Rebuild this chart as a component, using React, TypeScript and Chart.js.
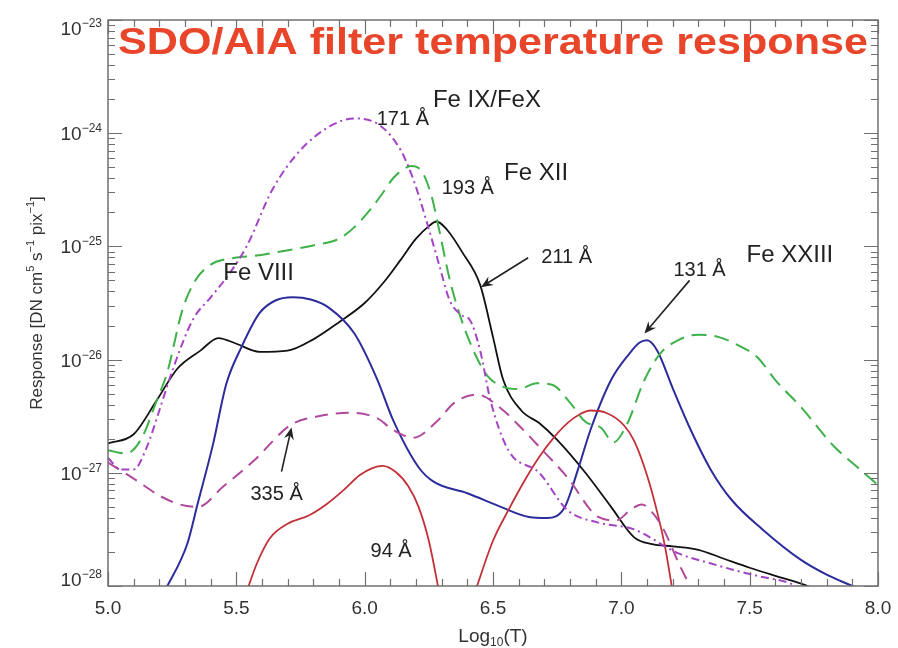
import { useEffect, useRef } from "react";
import { Chart, registerables } from "chart.js";

Chart.register(...registerables);

// ---- data (log10 T, response in DN cm^5 s^-1 pix^-1) ----
const T211 = [5.0, 5.1, 5.19, 5.27, 5.36, 5.43, 5.5, 5.59, 5.7, 5.8, 5.9, 6.0, 6.08, 6.14, 6.2, 6.25, 6.28, 6.32, 6.38, 6.45, 6.5, 6.54, 6.61, 6.68, 6.75, 6.86, 6.96, 7.05, 7.12, 7.2, 7.3, 7.4, 7.5, 7.6, 7.7, 7.78];
const R211 = [1.82e-27, 2.19e-27, 4.37e-27, 8.3e-27, 1.2e-26, 1.55e-26, 1.38e-26, 1.17e-26, 1.2e-26, 1.51e-26, 2.14e-26, 3.16e-26, 5.0e-26, 7.6e-26, 1.17e-25, 1.51e-25, 1.66e-25, 1.41e-25, 8.9e-26, 4.57e-26, 1.58e-26, 6.6e-27, 3.55e-27, 2.75e-27, 1.95e-27, 1.0e-27, 5.0e-28, 2.69e-28, 2.34e-28, 2.24e-28, 2.09e-28, 1.74e-28, 1.45e-28, 1.23e-28, 1.05e-28, 8.9e-29];

const T131 = [5.22, 5.31, 5.35, 5.41, 5.46, 5.52, 5.59, 5.65, 5.72, 5.79, 5.86, 5.96, 6.05, 6.11, 6.21, 6.27, 6.4, 6.53, 6.64, 6.71, 6.78, 6.83, 6.88, 6.96, 7.03, 7.07, 7.1, 7.14, 7.2, 7.27, 7.35, 7.43, 7.55, 7.7, 7.8, 7.9, 7.95];
const R131 = [8.9e-29, 2.4e-28, 5.4e-28, 1.82e-27, 6.0e-27, 1.29e-26, 2.57e-26, 3.31e-26, 3.55e-26, 3.39e-26, 2.88e-26, 1.7e-26, 6.6e-27, 2.95e-27, 1.12e-27, 8.3e-28, 6.6e-28, 5.0e-28, 4.07e-28, 3.98e-28, 5.0e-28, 1.05e-27, 2.4e-27, 6.6e-27, 1.12e-26, 1.41e-26, 1.48e-26, 1.2e-26, 5.6e-27, 2.4e-27, 1.05e-27, 5.75e-28, 3.16e-28, 1.7e-28, 1.26e-28, 1.0e-28, 8.9e-29];

const T94 = [5.54, 5.58, 5.63, 5.7, 5.78, 5.85, 5.92, 5.98, 6.03, 6.07, 6.12, 6.17, 6.21, 6.25, 6.29, 6.36, 6.43, 6.5, 6.56, 6.62, 6.68, 6.74, 6.79, 6.84, 6.88, 6.94, 7.01, 7.05, 7.1, 7.14, 7.17, 7.2];
const R94 = [8.9e-29, 1.58e-28, 2.63e-28, 3.55e-28, 4.17e-28, 5.25e-28, 7.1e-28, 9.5e-28, 1.1e-27, 1.15e-27, 1.02e-27, 7.6e-28, 5.0e-28, 2.51e-28, 8.9e-29, null, 8.9e-29, 2.51e-28, 4.68e-28, 8.3e-28, 1.38e-27, 2.09e-27, 2.75e-27, 3.31e-27, 3.55e-27, 3.39e-27, 2.63e-27, 1.91e-27, 9.5e-28, 4.47e-28, 2.24e-28, 8.9e-29];

const T193 = [5.0, 5.07, 5.13, 5.19, 5.23, 5.29, 5.34, 5.4, 5.49, 5.58, 5.66, 5.8, 5.9, 5.96, 6.02, 6.07, 6.11, 6.15, 6.18, 6.22, 6.26, 6.29, 6.33, 6.37, 6.43, 6.48, 6.54, 6.6, 6.67, 6.73, 6.8, 6.86, 6.92, 6.97, 7.02, 7.09, 7.15, 7.22, 7.3, 7.38, 7.46, 7.53, 7.6, 7.7, 7.83, 7.92, 8.0];
const R193 = [1.58e-27, 1.48e-27, 2.0e-27, 4.37e-27, 7.6e-27, 2.75e-26, 5.0e-26, 6.9e-26, 7.9e-26, 8.3e-26, 8.9e-26, 1.02e-25, 1.17e-25, 1.48e-25, 2.09e-25, 2.95e-25, 3.98e-25, 4.79e-25, 5.13e-25, 4.68e-25, 2.82e-25, 1.41e-25, 5.25e-26, 2.51e-26, 1.12e-26, 7.1e-27, 5.75e-27, 5.5e-27, 6.17e-27, 6.0e-27, 4.17e-27, 2.82e-27, 2.51e-27, 1.86e-27, 2.63e-27, 6.6e-27, 1.12e-26, 1.48e-26, 1.66e-26, 1.58e-26, 1.32e-26, 1.05e-26, 6.6e-27, 3.8e-27, 1.7e-27, 1.12e-27, 7.8e-28];

const T171 = [5.0, 5.05, 5.1, 5.15, 5.2, 5.25, 5.33, 5.4, 5.46, 5.54, 5.64, 5.75, 5.87, 5.96, 6.06, 6.14, 6.19, 6.24, 6.29, 6.33, 6.38, 6.41, 6.45, 6.49, 6.56, 6.68, 6.79, 6.91, 7.05, 7.22, 7.35, 7.44, 7.55, 7.65, 7.72];
const R171 = [1.35e-27, 1.07e-27, 1.07e-27, 1.66e-27, 3.55e-27, 7.9e-27, 2.24e-26, 3.55e-26, 5.25e-26, 1.0e-25, 3.16e-25, 7.1e-25, 1.17e-24, 1.35e-24, 1.17e-24, 7.1e-25, 3.89e-25, 1.7e-25, 6.9e-26, 3.39e-26, 2.45e-26, 2.24e-26, 1.2e-26, 4.37e-27, 1.58e-27, 1.0e-27, 4.68e-28, 3.63e-28, 3.16e-28, 1.95e-28, 1.58e-28, 1.38e-28, 1.2e-28, 1.07e-28, 8.9e-29];

const T335 = [5.0, 5.1, 5.2, 5.28, 5.35, 5.45, 5.57, 5.71, 5.82, 5.95, 6.05, 6.11, 6.19, 6.28, 6.35, 6.44, 6.53, 6.6, 6.68, 6.79, 6.91, 6.98, 7.04, 7.08, 7.12, 7.16, 7.23, 7.28];
const R335 = [1.23e-27, 8.9e-28, 6.3e-28, 5.25e-28, 5.0e-28, 7.6e-28, 1.29e-27, 2.63e-27, 3.16e-27, 3.39e-27, 3.02e-27, 2.4e-27, 2.04e-27, 2.82e-27, 4.17e-27, 4.9e-27, 3.72e-27, 2.63e-27, 1.7e-27, 9.1e-28, 4.07e-28, 3.8e-28, 4.79e-28, 5.25e-28, 4.47e-28, 3.31e-28, 1.48e-28, 8.9e-29];

// ---- axes ----
const X_MIN = 5.0;
const X_MAX = 8.0;
const X_TICK_LABELS = ["5.0", "5.5", "6.0", "6.5", "7.0", "7.5", "8.0"];
const Y_DECADES = [-28, -27, -26, -25, -24, -23];

// ---- annotations (anchored in data space: log10 T, log10 response) ----
const LABELS = [
  { text: "171 Å", t: 6.047, e: -23.93, size: 20 },
  { text: "Fe IX/FeX", t: 6.266, e: -23.77, size: 24 },
  { text: "193 Å", t: 6.3, e: -24.54, size: 20 },
  { text: "Fe XII", t: 6.543, e: -24.41, size: 24 },
  { text: "211 Å", t: 6.688, e: -25.15, size: 20 },
  { text: "131 Å", t: 7.203, e: -25.26, size: 20 },
  { text: "Fe XXIII", t: 7.488, e: -25.14, size: 24 },
  { text: "Fe VIII", t: 5.449, e: -25.3, size: 24 },
  { text: "335 Å", t: 5.555, e: -27.24, size: 20 },
  { text: "94 Å", t: 6.023, e: -27.74, size: 20 },
];
const ARROWS = [
  { t0: 6.637, e0: -25.1, t1: 6.453, e1: -25.36 },
  { t0: 7.266, e0: -25.3, t1: 7.09, e1: -25.77 },
  { t0: 5.676, e0: -26.99, t1: 5.715, e1: -26.6 },
];

const TITLE = "SDO/AIA filter temperature response";
const FONT = 'Arial, "Liberation Sans", Helvetica, sans-serif';

function pts(t: number[], r: (number | null)[]) {
  return t.map((x, i) => ({ x, y: r[i] }));
}

const overlayPlugin = {
  id: "overlay",
  afterDraw(chart: any) {
    const { ctx, chartArea: a } = chart;
    const xs = chart.scales.x;
    const ys = chart.scales.y;
    ctx.save();

    // frame
    ctx.strokeStyle = "#707070";
    ctx.lineWidth = 1.5;
    ctx.strokeRect(a.left, a.top, a.right - a.left, a.bottom - a.top);

    // ticks
    ctx.lineWidth = 1.2;
    ctx.beginPath();
    for (let i = 0; i < Y_DECADES.length; i++) {
      const e = Y_DECADES[i];
      for (let m = 1; m <= 9; m++) {
        if (i === Y_DECADES.length - 1 && m > 1) break;
        const py = Math.round(ys.getPixelForValue(m * Math.pow(10, e))) + 0.5;
        const len = m === 1 ? 14 : 7;
        ctx.moveTo(a.left, py);
        ctx.lineTo(a.left + len, py);
        ctx.moveTo(a.right, py);
        ctx.lineTo(a.right - len, py);
      }
    }
    for (let k = 0; k <= 30; k++) {
      const v = X_MIN + k / 10;
      const px = Math.round(xs.getPixelForValue(v)) + 0.5;
      const len = k % 5 === 0 ? 14 : 7;
      ctx.moveTo(px, a.bottom);
      ctx.lineTo(px, a.bottom - len);
      ctx.moveTo(px, a.top);
      ctx.lineTo(px, a.top + len);
    }
    ctx.stroke();

    // y tick labels 10^e
    ctx.fillStyle = "#333";
    ctx.textBaseline = "alphabetic";
    for (const e of Y_DECADES) {
      let cy = ys.getPixelForValue(Math.pow(10, e));
      cy = Math.min(Math.max(cy, a.top + 8), a.bottom - 7);
      const sup = "\u2212" + String(-e);
      ctx.font = `12px ${FONT}`;
      const wSup = ctx.measureText(sup).width;
      ctx.font = `19px ${FONT}`;
      const wTen = ctx.measureText("10").width;
      const right = a.left - 6;
      const base = cy + 7;
      ctx.textAlign = "left";
      ctx.fillText("10", right - wSup - wTen, base);
      ctx.font = `12px ${FONT}`;
      ctx.fillText(sup, right - wSup, base - 8);
    }

    // x tick labels
    ctx.font = `19px ${FONT}`;
    ctx.textAlign = "center";
    X_TICK_LABELS.forEach((lab) => {
      const px = xs.getPixelForValue(parseFloat(lab));
      ctx.fillText(lab, px, a.bottom + 28);
    });

    // x title: Log10(T)
    {
      const parts = [
        { s: "Log", f: 19, dy: 0 },
        { s: "10", f: 12, dy: 4 },
        { s: "(T)", f: 19, dy: 0 },
      ];
      let w = 0;
      for (const p of parts) {
        ctx.font = `${p.f}px ${FONT}`;
        w += ctx.measureText(p.s).width;
      }
      let x = (a.left + a.right) / 2 - w / 2;
      ctx.textAlign = "left";
      for (const p of parts) {
        ctx.font = `${p.f}px ${FONT}`;
        ctx.fillText(p.s, x, a.bottom + 56 + p.dy);
        x += ctx.measureText(p.s).width;
      }
    }

    // y title (rotated)
    {
      const parts = [
        { s: "Response [DN cm", f: 17, dy: 0 },
        { s: "5", f: 11, dy: -8 },
        { s: " s", f: 17, dy: 0 },
        { s: "\u22121", f: 11, dy: -8 },
        { s: " pix", f: 17, dy: 0 },
        { s: "\u22121", f: 11, dy: -8 },
        { s: "]", f: 17, dy: 0 },
      ];
      let w = 0;
      for (const p of parts) {
        ctx.font = `${p.f}px ${FONT}`;
        w += ctx.measureText(p.s).width;
      }
      ctx.save();
      ctx.translate(42, (a.top + a.bottom) / 2);
      ctx.rotate(-Math.PI / 2);
      let x = -w / 2;
      ctx.textAlign = "left";
      for (const p of parts) {
        ctx.font = `${p.f}px ${FONT}`;
        ctx.fillText(p.s, x, p.dy);
        x += ctx.measureText(p.s).width;
      }
      ctx.restore();
    }

    // curve labels
    ctx.fillStyle = "#222";
    ctx.textAlign = "left";
    for (const l of LABELS) {
      ctx.font = `${l.size}px ${FONT}`;
      ctx.fillText(l.text, xs.getPixelForValue(l.t), ys.getPixelForValue(Math.pow(10, l.e)));
    }

    // arrows
    ctx.strokeStyle = "#222";
    ctx.lineWidth = 1.6;
    for (const ar of ARROWS) {
      const x0 = xs.getPixelForValue(ar.t0);
      const y0 = ys.getPixelForValue(Math.pow(10, ar.e0));
      const x1 = xs.getPixelForValue(ar.t1);
      const y1 = ys.getPixelForValue(Math.pow(10, ar.e1));
      const ang = Math.atan2(y1 - y0, x1 - x0);
      ctx.beginPath();
      ctx.moveTo(x0, y0);
      ctx.lineTo(x1 - 6 * Math.cos(ang), y1 - 6 * Math.sin(ang));
      ctx.stroke();
      ctx.beginPath();
      ctx.moveTo(x1, y1);
      ctx.lineTo(x1 - 12 * Math.cos(ang) + 5 * Math.sin(ang), y1 - 12 * Math.sin(ang) - 5 * Math.cos(ang));
      ctx.lineTo(x1 - 8 * Math.cos(ang), y1 - 8 * Math.sin(ang));
      ctx.lineTo(x1 - 12 * Math.cos(ang) - 5 * Math.sin(ang), y1 - 12 * Math.sin(ang) + 5 * Math.cos(ang));
      ctx.closePath();
      ctx.fillStyle = "#222";
      ctx.fill();
    }

    // title
    ctx.font = `bold 37px ${FONT}`;
    ctx.fillStyle = "#e8452a";
    const tw = ctx.measureText(TITLE).width;
    const target = a.right - 10 - (a.left + 10);
    ctx.save();
    ctx.translate(a.left + 10, a.top + 34);
    ctx.scale(target / tw, 1);
    ctx.fillText(TITLE, 0, 0);
    ctx.restore();

    ctx.restore();
  },
};

export default function App() {
  const ref = useRef<HTMLCanvasElement>(null);
  useEffect(() => {
    document.body.style.margin = "0";
    const canvas = ref.current!;
    const chart = new Chart(canvas, {
      type: "line",
      data: {
        datasets: [
          { label: "171 Å", data: pts(T171, R171), borderColor: "#a444c4", borderDash: [8, 4, 2, 4], borderWidth: 2 },
          { label: "193 Å", data: pts(T193, R193), borderColor: "#3fb14a", borderDash: [15, 8], borderWidth: 2 },
          { label: "335 Å", data: pts(T335, R335), borderColor: "#b04a9c", borderDash: [13, 8], borderWidth: 2 },
          { label: "94 Å", data: pts(T94, R94), borderColor: "#c3303a", borderWidth: 1.8, spanGaps: false },
          { label: "131 Å", data: pts(T131, R131), borderColor: "#2c2c9c", borderWidth: 2 },
          { label: "211 Å", data: pts(T211, R211), borderColor: "#111111", borderWidth: 1.8 },
        ] as any,
      },
      options: {
        animation: false,
        responsive: false,
        devicePixelRatio: 1,
        layout: { padding: { left: 108, right: 20, top: 20, bottom: 62 } },
        elements: {
          point: { radius: 0, hoverRadius: 0 },
          line: { cubicInterpolationMode: "monotone", fill: false },
        },
        scales: {
          x: { type: "linear", min: X_MIN, max: X_MAX, display: false },
          y: { type: "logarithmic", min: 1e-28, max: 1e-23, display: false },
        },
        plugins: { legend: { display: false }, tooltip: { enabled: false }, title: { display: false } },
      },
      plugins: [overlayPlugin],
    } as any);
    return () => chart.destroy();
  }, []);
  return (
    <div style={{ width: 898, height: 648, background: "#fff" }}>
      <canvas ref={ref} width={898} height={648} style={{ display: "block" }} />
    </div>
  );
}
